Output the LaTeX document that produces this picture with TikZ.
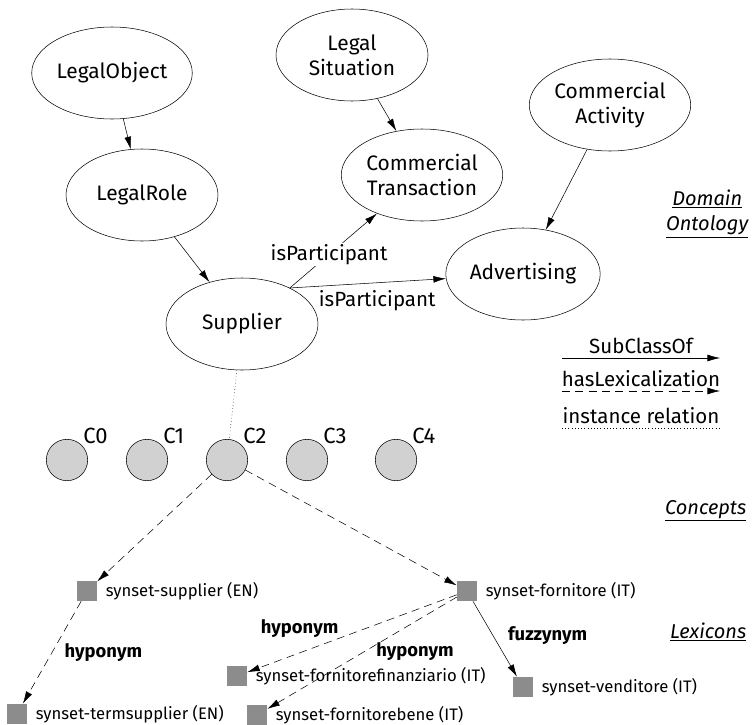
\documentclass[tikz,border=0pt]{standalone}
\usepackage{fontspec}
\setmainfont{Fira Sans}
\usetikzlibrary{arrows.meta,positioning,shapes.geometric}

\begin{document}
\begin{tikzpicture}[x=0.75pt,y=-0.75pt,
  cls/.style={draw,ellipse,align=center,minimum width=114pt,minimum height=69pt,
    inner sep=1pt,font=\fontsize{15.7}{19}\selectfont},
  concept/.style={draw,circle,fill=black!18,minimum size=31pt,inner sep=0pt},
  syn/.style={fill=black!45,minimum size=15pt,inner sep=0pt},
  lex/.style={font=\fontsize{12.5}{14}\selectfont,label distance=3pt},
  rel/.style={font=\fontsize{13.8}{16}\selectfont\bfseries},
  big/.style={font=\fontsize{15.4}{18}\selectfont},
  layer/.style={font=\fontsize{15}{19}\selectfont\itshape,align=center},
  arr/.style={-{Latex[length=3.3mm,width=1.8mm]}},
  lexarr/.style={arr,dashed,dash pattern=on 6pt off 4pt}]
\useasboundingbox (0,0) rectangle (754,725);
% domain ontology
\node[cls] (legobj) at (112,73) {LegalObject};
\node[cls] (legrole) at (142,195) {LegalRole};
\node[cls] (supp) at (242,324) {Supplier};
\node[cls] (legsit) at (352,55) {Legal\\Situation};
\node[cls] (comtr) at (422,175) {Commercial\\Transaction};
\node[cls] (comact) at (610,105) {Commercial\\Activity};
\node[cls] (adv) at (523,274) {Advertising};
\draw[arr] (legobj) -- (legrole);
\draw[arr] (legrole) -- (supp);
\draw[arr] (legsit) -- (comtr);
\draw[arr] (comact) -- (adv);
\draw[arr] (supp.37) -- node[big,fill=white,inner sep=1pt,pos=0.45]{isParticipant} (comtr);
\draw[arr] (supp.37) -- node[big,below=2pt,pos=0.56]{isParticipant} (adv);
% concepts
\foreach \i/\x in {0/67,1/147,2/227,3/307,4/396}
  \node[concept,label={[font=\fontsize{16.5}{19}\selectfont,inner sep=1pt]above right:C\i}] (c\i) at (\x,460) {};
\draw[dotted] (supp) -- (c2);
% lexicons
\node[syn,label={[lex]right:synset-supplier (EN)}] (sup) at (87,591) {};
\node[syn,label={[lex]right:synset-termsupplier (EN)}] (tsup) at (17,714) {};
\node[syn,label={[lex]right:synset-fornitore (IT)}] (forn) at (467,591) {};
\node[syn,label={[lex]right:synset-fornitorefinanziario (IT)}] (fornfin) at (237,676) {};
\node[syn,label={[lex]right:synset-fornitorebene (IT)}] (fornbene) at (257,715) {};
\node[syn,label={[lex]right:synset-venditore (IT)}] (vend) at (523,687) {};
\draw[lexarr] (c2) -- (sup);
\draw[lexarr] (c2) -- (forn);
\draw[lexarr] (sup) -- node[rel,right=6pt,pos=0.5]{hyponym} (tsup);
\draw[lexarr] (forn) -- node[rel,above=8pt,pos=0.75]{hyponym} (fornfin);
\draw[lexarr] (forn) -- node[rel,below=12pt,pos=0.22]{hyponym} (fornbene);
\draw[arr] (forn) -- node[rel,right=8pt,pos=0.45]{fuzzynym} (vend);
% legend
\coordinate (subA) at (562,358); \coordinate (subB) at (720,358);
\coordinate (lexA) at (562,391); \coordinate (lexB) at (720,391);
\coordinate (insA) at (562,428); \coordinate (insB) at (720,428);
\draw[arr] (subA) -- node[big,above]{SubClassOf} (subB);
\draw[lexarr] (lexA) -- node[big,above]{hasLexicalization} (lexB);
\draw[dotted] (insA) -- node[big,above]{instance relation} (insB);
% layer names
\node[layer,anchor=east] (dom) at (753,214) {\underline{Domain}\\\underline{Ontology}};
\node[layer,anchor=east] (conc) at (751,511) {\underline{Concepts}};
\node[layer,anchor=east] (lexi) at (751,632) {\underline{Lexicons}};
\end{tikzpicture}
\end{document}
